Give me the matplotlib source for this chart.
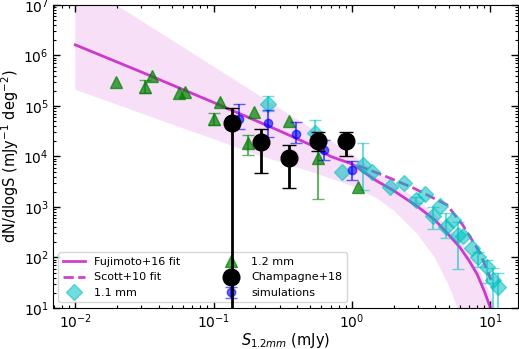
import numpy as np
import matplotlib
matplotlib.use('Agg')
import matplotlib.pyplot as plt

nan = np.nan

# Fujimoto+16 fit
fit_s = [0.01, 0.03, 0.1, 0.3, 0.5, 0.7, 1.0, 1.5, 2.0, 3.0, 4.0, 5.0, 6.0, 7.0, 8.0, 9.0, 10.0]
fit_n = [1.62e6, 4.7e5, 1.17e5, 3.2e4, 1.7e4, 1.0e4, 7.1e3, 3.3e3, 2.1e3, 1.0e3,
         540, 280, 160, 87, 47, 22, 10]

# uncertainty band of the Fujimoto+16 fit
band_s = [0.01, 0.02, 0.05, 0.1, 0.2, 0.5, 1.0, 1.5, 2.0, 3.0, 4.0, 5.0, 6.0, 7.0, 8.0, 9.0, 10.0, 11.0]
band_lo = [2.1e5, 1.06e5, 4.3e4, 2.2e4, 1.1e4, 5.0e3, 2.6e3, 1.5e3, 850, 280, 95, 28, 7.6, 2, 0.1, 0.1, 0.1, 0.1]
band_hi = [3.2e7, 9.8e6, 2.0e6, 6.0e5, 1.8e5, 3.7e4, 1.1e4, 4.8e3, 3.0e3, 1.35e3,
           700, 380, 215, 125, 69, 35, 19, 8]

# Scott+10 fit
scott_s = [1.1, 1.59, 2.75, 4.85, 6.3, 8.4, 10.1]
scott_n = [6.6e3, 4.5e3, 2.4e3, 1.1e3, 440, 123, 36]

# 1.1 mm counts (lo / hi = ends of the error bars)
mm11_s = [0.248, 0.54, 0.843, 1.2, 1.39, 1.88, 2.37, 2.9, 3.37, 3.82, 4.3, 4.8, 5.36, 5.8,
          6.3, 7.3, 8.1, 9.4, 10.4, 11.3]
mm11_n = [1.1e5, 2.9e4, 5.0e3, 6.8e3, 5.0e3, 2.46e3, 2.95e3, 1.38e3, 1.8e3, 660, 1.05e3,
          410, 550, 283, 270, 155, 103, 65, 36, 26]
mm11_lo = [7.9e4, 2.0e4, nan, 2.2e3, nan, nan, nan, 1.2e3, nan, 365, nan, 245, nan, 59,
           nan, nan, 65, 31, 5, 5]
mm11_hi = [1.6e5, 5.2e4, nan, 1.85e4, nan, nan, nan, 1.6e3, nan, 1.0e3, nan, 760, nan, 510,
           nan, nan, 128, 89, 62, 49]

# 1.2 mm counts
mm12_s = [0.0198, 0.032, 0.036, 0.056, 0.062, 0.10, 0.111, 0.177, 0.196, 0.35, 0.57, 1.1]
mm12_n = [3.0e5, 2.4e5, 3.9e5, 1.8e5, 1.9e5, 5.5e4, 1.2e5, 1.85e4, 7.7e4, 5.0e4, 9.3e3, 2.5e3]
mm12_lo = [nan, 1.8e5, nan, nan, nan, 4.2e4, nan, 1.07e4, nan, nan, 1.45e3, nan]
mm12_hi = [nan, 3.3e5, nan, nan, nan, 7.2e4, nan, 2.6e4, nan, nan, 2.3e4, nan]

# Champagne+18
champ_s = [0.136, 0.22, 0.35, 0.57, 0.905]
champ_n = [4.6e4, 1.9e4, 9.3e3, 2.0e4, 2.0e4]
champ_lo = [1, 4.7e3, 2.4e3, 1.3e4, 1.02e4]
champ_hi = [9.2e4, 3.5e4, 1.7e4, 3.05e4, 3.05e4]

# simulations
sim_s = [0.153, 0.248, 0.394, 0.63, 1.0]
sim_n = [5.5e4, 4.6e4, 2.8e4, 1.35e4, 5.4e3]
sim_lo = [3.5e4, 2.4e4, 1.86e4, 8.5e3, 3.4e3]
sim_hi = [1.1e5, 8.3e4, 4.8e4, 2.1e4, 8.1e3]


def yerr(n, lo, hi):
    n, lo, hi = np.array(n), np.array(lo), np.array(hi)
    return [n - lo, hi - n]


fig = plt.figure(figsize=(5.19, 3.49), dpi=100)
ax = fig.add_axes([0.102, 0.1175, 0.896, 0.8685])
ax.set_xscale('log')
ax.set_yscale('log')

ax.fill_between(band_s, band_lo, band_hi, color='m', alpha=0.12, lw=0, zorder=1)
l1, = ax.plot(fit_s, fit_n, color='m', alpha=0.75, lw=2, zorder=2, label='Fujimoto+16 fit')
l2, = ax.plot(scott_s, scott_n, color='m', alpha=0.75, lw=2, ls='--', zorder=2,
              label='Scott+10 fit')

ax.errorbar(mm11_s, mm11_n, yerr=yerr(mm11_n, mm11_lo, mm11_hi), fmt='none',
            ecolor='c', alpha=0.55, capsize=4, lw=1.5, zorder=3)
h11, = ax.plot(mm11_s, mm11_n, 'D', color='c', alpha=0.55, ms=8, zorder=3, label='1.1 mm')

ax.errorbar(mm12_s, mm12_n, yerr=yerr(mm12_n, mm12_lo, mm12_hi), fmt='none',
            ecolor='g', alpha=0.6, capsize=4, lw=1.5, zorder=4)
h12, = ax.plot(mm12_s, mm12_n, '^', color='g', alpha=0.7, ms=9, zorder=4, label='1.2 mm')

hsim = ax.errorbar(sim_s, sim_n, yerr=yerr(sim_n, sim_lo, sim_hi), fmt='o', color='b',
                   alpha=0.6, ms=6, capsize=4, lw=1.5, zorder=5, label='simulations')

ax.errorbar(champ_s, champ_n, yerr=yerr(champ_n, champ_lo, champ_hi), fmt='none',
            ecolor='k', capsize=5, lw=2, zorder=6)
hch, = ax.plot(champ_s, champ_n, 'o', color='k', ms=12, zorder=6, label='Champagne+18')

ax.set_xlim(0.0069, 15.8)
ax.set_ylim(10, 1e7)

ax.tick_params(which='both', direction='in', top=True, right=True, labelsize=10, pad=3)
ax.tick_params(which='major', length=5, width=1)
ax.tick_params(which='minor', length=2.5, width=0.8)

ax.set_xlabel('$S_{1.2mm}$ (mJy)', fontsize=10.5, labelpad=0)
ax.set_ylabel('dN/dlogS (mJy$^{-1}$ deg$^{-2}$)', fontsize=10.5, labelpad=2)

ax.legend(handles=[l1, l2, h11, h12, hch, hsim], loc='lower left', ncol=2, fontsize=8,
          columnspacing=3.6)

fig.savefig('out.png', dpi=100)
